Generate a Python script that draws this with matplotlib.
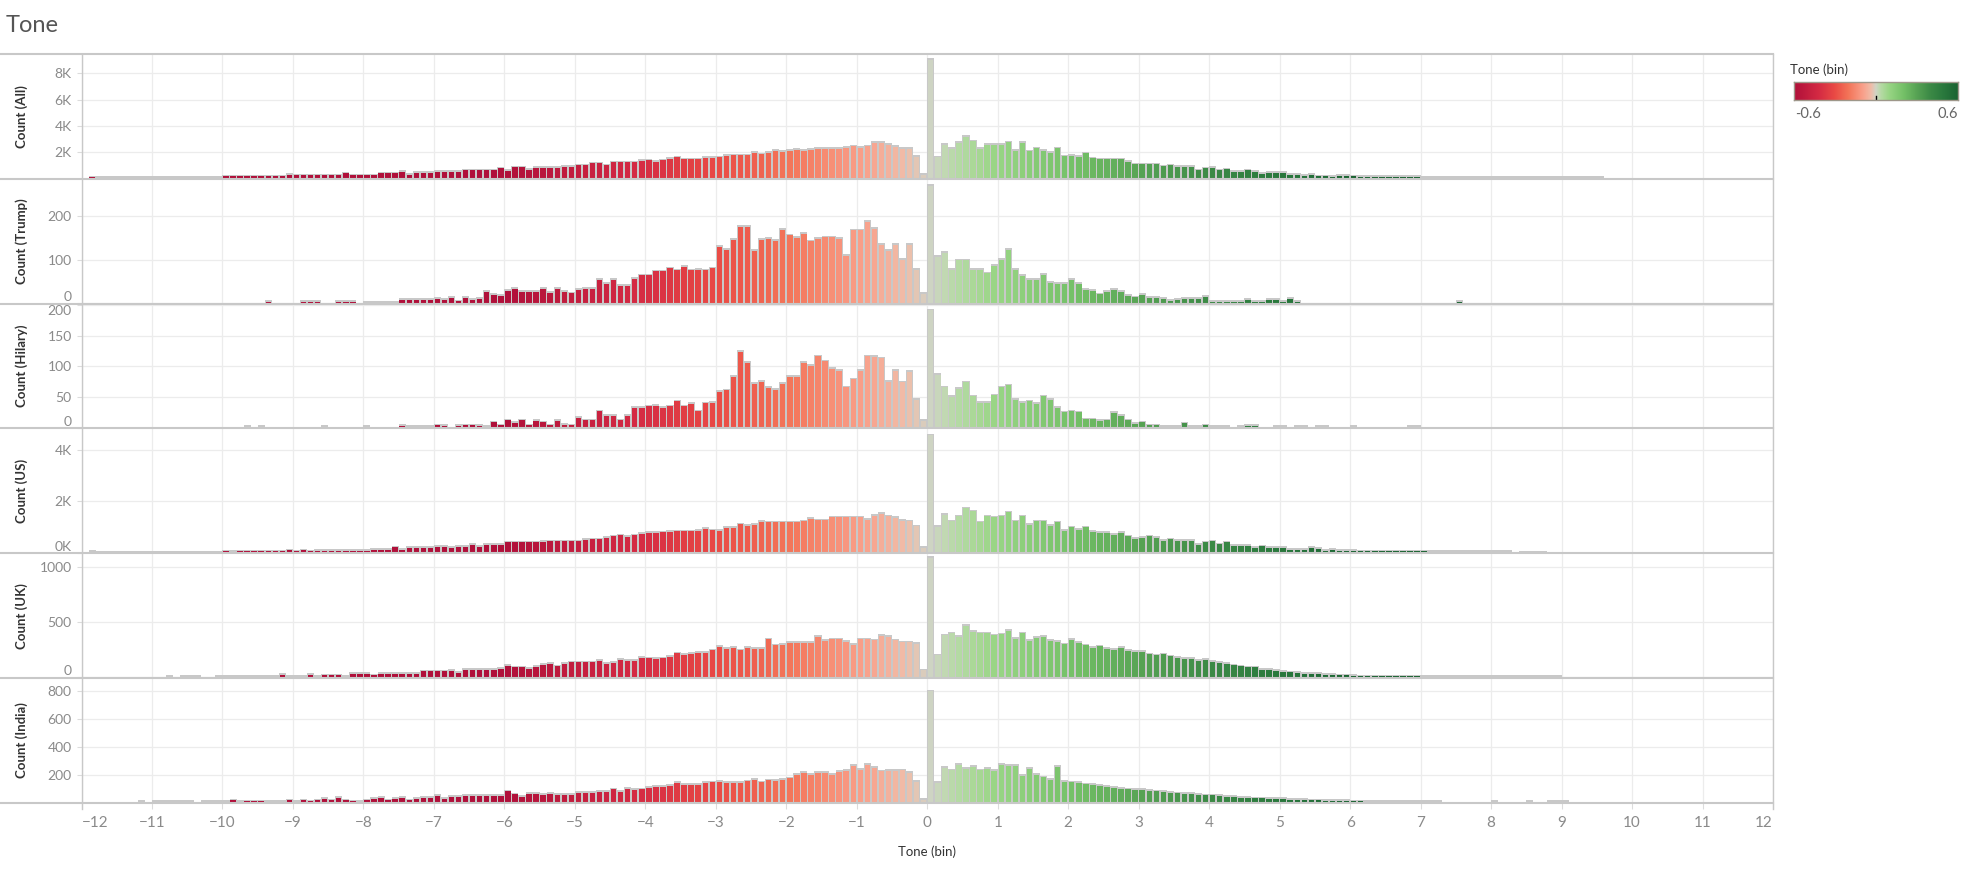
import numpy as np
import matplotlib.pyplot as plt
from matplotlib.colors import LinearSegmentedColormap, Normalize
from matplotlib.lines import Line2D

plt.rcParams['font.family'] = ['Lato', 'DejaVu Sans']

W, H = 1965, 871

# bin starts, width 0.1, from -12.0 to 11.9
bins = np.round(np.arange(-12, 12, 0.1), 1)

count_all = [
    0, 60, 25, 25, 25, 25, 25, 25, 25, 25,
    25, 25, 25, 25, 25, 25, 25, 25, 25, 25,
    130, 130, 130, 130, 130, 130, 130, 130, 150, 230,
    210, 210, 210, 210, 210, 210, 210, 380, 210, 210,
    210, 210, 380, 380, 380, 460, 280, 430, 430, 430,
    510, 510, 510, 510, 590, 590, 590, 590, 590, 740,
    560, 820, 820, 640, 800, 800, 800, 800, 870, 870,
    970, 970, 1130, 1130, 970, 1200, 1200, 1200, 1200, 1330,
    1360, 1260, 1360, 1490, 1590, 1440, 1440, 1440, 1560, 1560,
    1590, 1690, 1740, 1740, 1740, 1950, 1820, 1950, 2100, 2000,
    2100, 2150, 2090, 2160, 2260, 2260, 2260, 2260, 2340, 2420,
    2340, 2420, 2670, 2670, 2520, 2370, 2260, 2260, 1650, 230,
    9050, 1590, 2540, 2230, 2670, 3130, 2820, 2230, 2540, 2540,
    2540, 2740, 2100, 2670, 2050, 2280, 2100, 1950, 2280, 1670,
    1720, 1620, 1900, 1510, 1440, 1440, 1440, 1440, 1230, 1050,
    1050, 1050, 1050, 900, 970, 870, 870, 870, 590, 740,
    800, 590, 670, 490, 490, 590, 490, 310, 410, 410,
    410, 230, 230, 180, 260, 150, 150, 120, 180, 180,
    150, 120, 100, 100, 100, 100, 80, 100, 100, 100,
    40, 40, 40, 40, 40, 40, 40, 40, 40, 40,
    40, 40, 40, 40, 30, 30, 30, 30, 30, 30,
    30, 30, 30, 30, 30, 20, 0, 0, 0, 0,
    0, 0, 0, 0, 0, 0, 0, 0, 0, 0,
    0, 0, 0, 0, 0, 0, 0, 0, 0, 0,
]

count_trump = [
    0, 0, 0, 0, 0, 0, 0, 0, 0, 0,
    0, 0, 0, 0, 0, 0, 0, 0, 0, 0,
    0, 0, 0, 0, 0, 0, 2, 0, 0, 0,
    0, 2, 2, 2, 0, 0, 2, 2, 2, 0,
    1, 1, 1, 1, 1, 8, 8, 8, 8, 8,
    10, 8, 12, 4, 12, 8, 10, 25, 19, 16,
    28, 32, 26, 26, 26, 32, 23, 32, 26, 22,
    30, 32, 32, 53, 44, 53, 39, 39, 55, 64,
    64, 73, 73, 80, 75, 84, 75, 77, 75, 80,
    130, 123, 145, 175, 175, 120, 145, 148, 143, 168,
    156, 150, 160, 142, 147, 151, 151, 147, 108, 167,
    167, 187, 170, 134, 120, 134, 99, 134, 77, 21,
    270, 107, 116, 76, 98, 98, 77, 77, 68, 85,
    100, 122, 76, 62, 53, 53, 65, 47, 44, 44,
    53, 44, 30, 28, 20, 25, 30, 25, 17, 13,
    19, 12, 12, 10, 5, 8, 9, 9, 9, 14,
    2, 2, 2, 2, 2, 8, 2, 2, 8, 8,
    2, 10, 2, 0, 0, 0, 0, 0, 0, 0,
    0, 0, 0, 0, 0, 0, 0, 0, 0, 0,
    0, 0, 0, 0, 0, 3, 0, 0, 0, 0,
    0, 0, 0, 0, 0, 0, 0, 0, 0, 0,
    0, 0, 0, 0, 0, 0, 0, 0, 0, 0,
    0, 0, 0, 0, 0, 0, 0, 0, 0, 0,
    0, 0, 0, 0, 0, 0, 0, 0, 0, 0,
]

count_hilary = [
    0, 0, 0, 0, 0, 0, 0, 0, 0, 0,
    0, 0, 0, 0, 0, 0, 0, 0, 0, 0,
    0, 0, 0, 1, 0, 1, 0, 0, 0, 0,
    0, 0, 0, 0, 1, 0, 0, 0, 0, 0,
    1, 0, 0, 0, 0, 3, 1, 1, 1, 1,
    4, 3, 0, 3, 4, 4, 3, 2, 9, 4,
    12, 8, 12, 4, 11, 9, 4, 11, 5, 4,
    16, 12, 12, 27, 20, 20, 12, 19, 33, 33,
    35, 36, 33, 35, 43, 35, 39, 27, 40, 41,
    59, 61, 83, 124, 106, 71, 75, 65, 62, 71,
    83, 83, 106, 101, 116, 108, 96, 93, 66, 79,
    93, 116, 115, 113, 75, 93, 74, 91, 46, 11,
    191, 86, 66, 50, 63, 74, 51, 41, 41, 53,
    66, 69, 45, 41, 43, 39, 51, 45, 33, 25,
    27, 25, 14, 14, 11, 12, 24, 19, 12, 6,
    9, 4, 4, 2, 2, 2, 7, 2, 2, 4,
    2, 1, 1, 0, 1, 3, 3, 0, 0, 1,
    1, 0, 1, 1, 0, 1, 1, 0, 0, 0,
    1, 0, 0, 0, 0, 0, 0, 0, 1, 1,
    0, 0, 0, 0, 0, 0, 0, 0, 0, 0,
    0, 0, 0, 0, 0, 0, 0, 0, 0, 0,
    0, 0, 0, 0, 0, 0, 0, 0, 0, 0,
    0, 0, 0, 0, 0, 0, 0, 0, 0, 0,
    0, 0, 0, 0, 0, 0, 0, 0, 0, 0,
]

count_us = [
    0, 20, 15, 15, 15, 15, 15, 15, 15, 15,
    15, 15, 15, 15, 15, 15, 15, 15, 15, 15,
    50, 20, 50, 50, 50, 50, 50, 50, 50, 90,
    50, 90, 50, 60, 70, 70, 70, 70, 70, 70,
    80, 120, 120, 120, 200, 120, 190, 190, 190, 190,
    230, 230, 190, 230, 230, 290, 230, 290, 290, 290,
    400, 400, 400, 400, 400, 420, 440, 440, 440, 440,
    440, 490, 520, 520, 570, 640, 680, 620, 680, 730,
    770, 770, 790, 800, 830, 830, 830, 860, 920, 870,
    840, 970, 970, 1100, 1040, 1080, 1210, 1180, 1180, 1180,
    1180, 1180, 1220, 1310, 1260, 1260, 1380, 1380, 1380, 1380,
    1380, 1290, 1450, 1520, 1420, 1350, 1250, 1220, 1030, 180,
    4580, 1000, 1470, 1220, 1420, 1730, 1610, 1180, 1420, 1380,
    1420, 1570, 1220, 1420, 1090, 1220, 1220, 1050, 1180, 860,
    990, 900, 990, 820, 780, 780, 700, 780, 640, 530,
    580, 640, 580, 470, 520, 470, 470, 470, 290, 400,
    440, 320, 400, 270, 270, 270, 190, 250, 190, 190,
    180, 120, 120, 120, 180, 140, 80, 120, 80, 80,
    80, 50, 50, 50, 50, 50, 50, 50, 50, 50,
    50, 20, 20, 20, 20, 20, 20, 20, 20, 20,
    20, 20, 20, 0, 15, 15, 15, 15, 0, 0,
    0, 0, 0, 0, 0, 0, 0, 0, 0, 0,
    0, 0, 0, 0, 0, 0, 0, 0, 0, 0,
    0, 0, 0, 0, 0, 0, 0, 0, 0, 0,
]

count_uk = [
    0, 0, 0, 0, 0, 0, 0, 0, 0, 0,
    0, 0, 5, 0, 5, 5, 5, 0, 0, 5,
    5, 5, 5, 5, 5, 5, 5, 5, 26, 5,
    5, 5, 26, 5, 20, 20, 20, 5, 32, 32,
    32, 20, 32, 32, 32, 32, 32, 32, 56, 56,
    56, 56, 62, 41, 70, 70, 70, 70, 70, 79,
    106, 91, 91, 79, 97, 112, 120, 100, 120, 135,
    135, 135, 135, 150, 123, 129, 159, 150, 150, 179,
    173, 168, 173, 188, 218, 203, 212, 223, 223, 244,
    279, 256, 270, 244, 270, 256, 256, 344, 291, 297,
    315, 315, 315, 315, 367, 332, 344, 344, 320, 297,
    344, 344, 335, 379, 365, 335, 318, 318, 303, 65,
    1080, 200, 380, 400, 370, 470, 410, 400, 400, 380,
    390, 420, 350, 400, 330, 360, 370, 330, 320, 300,
    340, 310, 290, 270, 280, 260, 250, 270, 240, 230,
    230, 210, 200, 210, 190, 180, 170, 170, 150, 160,
    140, 130, 120, 110, 100, 90, 90, 70, 70, 60,
    50, 45, 40, 35, 35, 30, 25, 25, 20, 20,
    15, 10, 10, 10, 10, 10, 10, 10, 10, 10,
    5, 5, 5, 5, 5, 5, 5, 5, 5, 5,
    3, 3, 3, 3, 3, 5, 3, 3, 3, 3,
    0, 0, 0, 0, 0, 0, 0, 0, 0, 0,
    0, 0, 0, 0, 0, 0, 0, 0, 0, 0,
    0, 0, 0, 0, 0, 0, 0, 0, 0, 0,
]

count_india = [
    0, 0, 0, 0, 0, 0, 0, 0, 3, 0,
    3, 3, 3, 3, 3, 3, 0, 3, 3, 3,
    3, 14, 3, 7, 7, 7, 3, 3, 3, 14,
    3, 14, 7, 14, 24, 14, 33, 14, 7, 3,
    14, 24, 33, 14, 24, 33, 14, 24, 33, 33,
    48, 24, 38, 38, 48, 48, 48, 48, 48, 48,
    79, 57, 38, 62, 62, 52, 62, 52, 52, 52,
    71, 71, 71, 76, 76, 93, 76, 98, 90, 93,
    107, 114, 114, 119, 140, 124, 124, 124, 140, 145,
    150, 140, 140, 140, 152, 164, 145, 159, 155, 164,
    174, 198, 212, 198, 212, 212, 198, 219, 228, 264,
    236, 269, 250, 224, 228, 228, 230, 215, 150, 19,
    800, 140, 250, 230, 270, 240, 255, 230, 240, 225,
    270, 265, 265, 190, 240, 200, 180, 160, 255, 150,
    145, 140, 130, 125, 120, 110, 105, 100, 95, 90,
    90, 85, 80, 75, 70, 65, 60, 60, 55, 50,
    50, 45, 40, 40, 35, 35, 30, 30, 25, 25,
    25, 20, 20, 18, 15, 15, 12, 12, 10, 10,
    8, 8, 6, 6, 5, 5, 5, 5, 4, 4,
    3, 3, 3, 0, 0, 0, 0, 0, 0, 0,
    3, 0, 0, 0, 0, 3, 0, 0, 3, 3,
    3, 0, 0, 0, 0, 0, 0, 0, 0, 0,
    0, 0, 0, 0, 0, 0, 0, 0, 0, 0,
    0, 0, 0, 0, 0, 0, 0, 0, 0, 0,
]

panel_names = ["Count (All)", "Count (Trump)", "Count (Hilary)",
               "Count (US)", "Count (UK)", "Count (India)"]
panel_counts = [count_all, count_trump, count_hilary, count_us, count_uk, count_india]
panel_ymax = [9470, 286, 202, 4857, 1125, 895]
panel_ticks = [[2000, 4000, 6000, 8000], [0, 100, 200], [0, 50, 100, 150, 200],
               [0, 2000, 4000], [0, 500, 1000], [200, 400, 600, 800]]
panel_ticklabels = [["2K", "4K", "6K", "8K"], ["0", "100", "200"],
                    ["0", "50", "100", "150", "200"], ["0K", "2K", "4K"],
                    ["0", "500", "1000"], ["200", "400", "600", "800"]]

# diverging red-grey-green palette
cmap = LinearSegmentedColormap.from_list("tone", [
    (0.00, "#b0103a"), (0.15, "#d42a43"), (0.25, "#ea4b45"), (0.33, "#f37458"),
    (0.42, "#f9a08a"), (0.47, "#f0bca8"), (0.50, "#d0d4c5"), (0.53, "#b6daa5"),
    (0.58, "#98d584"), (0.67, "#74c067"), (0.75, "#57a354"), (0.83, "#3c8a46"),
    (0.92, "#28773c"), (1.00, "#1b6432")])
norm = Normalize(-6, 6)

fig = plt.figure(figsize=(W / 100, H / 100), dpi=100)


def fx(px):
    return px / W


def fy(py):
    return 1 - py / H


x_left, x_right = 81.5, 1773
edges = [54, 178.8, 303.6, 428.4, 553.2, 678, 803]
line_c = "#c8c8c8"
grid_c = "#ececec"
tick_c = "#8a8a8a"
unit_px = (x_right - x_left) / 24.0
gap = 1.6 / unit_px  # grey gap between bars, in x units

for i in range(6):
    top, bot = edges[i], edges[i + 1]
    ax = fig.add_axes([fx(x_left), fy(bot), fx(x_right) - fx(x_left), (bot - top) / H])
    counts = np.array(panel_counts[i], dtype=float)
    m = counts > 0
    per_px = panel_ymax[i] / (bot - top)
    cap = 1.7 * per_px  # grey cap above each bar
    # grey outline layer, then coloured fill inset
    ax.bar(bins[m], counts[m] + cap, width=0.1, align="edge",
           color=line_c, linewidth=0, zorder=2)
    ax.bar(bins[m] + gap / 2, counts[m], width=0.1 - gap, align="edge",
           color=cmap(norm(bins[m])), linewidth=0, zorder=3)
    ax.set_xlim(-12, 12)
    ax.set_ylim(-0.6 * per_px, panel_ymax[i])
    ax.set_xticks(range(-12, 13))
    ax.set_yticks(panel_ticks[i])
    ax.set_yticklabels(panel_ticklabels[i])
    ax.grid(True, color=grid_c, linewidth=0.9, zorder=0)
    ax.set_axisbelow(True)
    for s in ax.spines.values():
        s.set_visible(False)
    ax.tick_params(axis="y", length=3.5, color="#dcdcdc", pad=3.5,
                   labelsize=10, labelcolor=tick_c)
    for lab, v in zip(ax.get_yticklabels(), panel_ticks[i]):
        if v == 0:
            lab.set_verticalalignment("bottom")
        elif v > panel_ymax[i] * 0.97:
            lab.set_verticalalignment("top")
    if i < 5:
        ax.tick_params(axis="x", length=0, labelbottom=False)
    else:
        ax.tick_params(axis="x", length=4.5, color="#dcdcdc", pad=5,
                       labelsize=11, labelcolor=tick_c)
        xl = ax.get_xticklabels()
        xl[0].set_horizontalalignment("left")
        xl[-1].set_horizontalalignment("right")
    fig.text(fx(22), fy((top + bot) / 2), panel_names[i], rotation=90,
             ha="center", va="center", fontsize=9.5, fontweight="bold", color="#333333")

# panel separators and frame
for e in edges:
    fig.add_artist(Line2D([0, fx(x_right)], [fy(e), fy(e)], color=line_c, linewidth=1.5))
fig.add_artist(Line2D([fx(x_left), fx(x_left)], [fy(edges[0]), fy(edges[-1] + 6)],
                      color=line_c, linewidth=1))
fig.add_artist(Line2D([fx(x_right), fx(x_right)], [fy(edges[0]), fy(edges[-1] + 6)],
                      color=line_c, linewidth=1))

fig.text(fx(6), fy(26), "Tone", fontsize=17, color="#555555",
         ha="left", va="center")
fig.text(fx((x_left + x_right) / 2), fy(852), "Tone (bin)", fontsize=9.5,
         color="#333333", ha="center", va="center")

# colour legend
fig.text(fx(1790), fy(70), "Tone (bin)", fontsize=9.5, color="#333333",
         ha="left", va="center")
cax = fig.add_axes([fx(1794), fy(100), fx(1958) - fx(1794), 18.3 / H])
cax.imshow(np.linspace(0, 1, 256)[None, :], aspect="auto", cmap=cmap,
           extent=[0, 1, 0, 1])
cax.set_xticks([])
cax.set_yticks([])
for s in cax.spines.values():
    s.set_color("#9e978a")
    s.set_linewidth(1)
cax.plot([0.5, 0.5], [0, 0.22], color="black", linewidth=1)
fig.text(fx(1795), fy(114), "-0.6", fontsize=10.5, color="#666666", ha="left", va="center")
fig.text(fx(1958), fy(114), "0.6", fontsize=10.5, color="#666666", ha="right", va="center")

fig.savefig("out.png", dpi=100, facecolor="white")
